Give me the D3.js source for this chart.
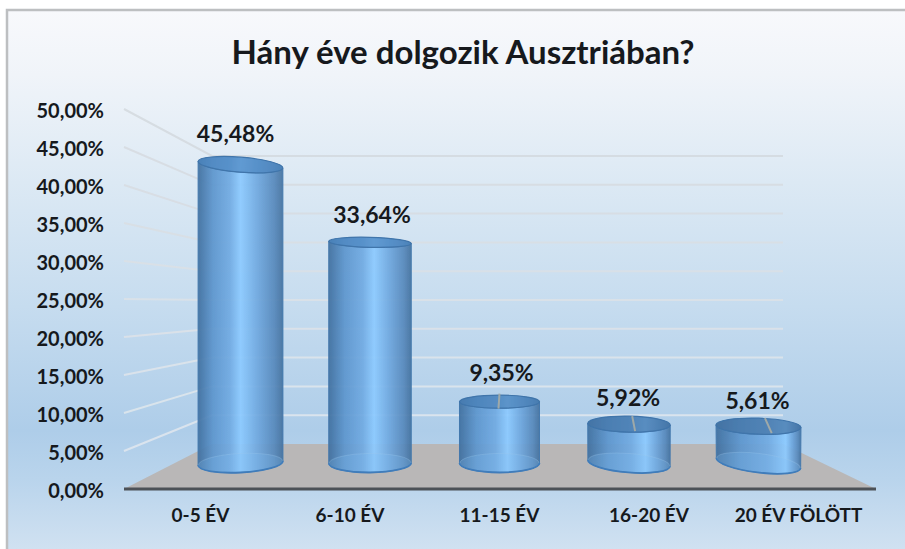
<!DOCTYPE html>
<html>
<head>
<meta charset="utf-8">
<script src="https://cdn.jsdelivr.net/npm/d3@7"></script>
<style>
  html, body { margin: 0; padding: 0; background: #fff; }
  svg { display: block; }
  text { font-family: Lato, "Noto Sans", sans-serif; font-weight: 700; fill: #16191d; }
</style>
</head>
<body>
<div id="wrapper"></div>
<script>
const chartTitle = "Hány éve dolgozik Ausztriában?"
const categories = ["0-5 ÉV", "6-10 ÉV", "11-15 ÉV", "16-20 ÉV", "20 ÉV FÖLÖTT"]
const shares = [45.48, 33.64, 9.35, 5.92, 5.61]
const yTicks = [0, 5, 10, 15, 20, 25, 30, 35, 40, 45, 50]

const pct = d => d.toFixed(2).replace(".", ",") + "%"

// 1. Dimensions
const width = 905
const height = 549
const frame = { left: 7, top: 10 }
const plane = {
  frontLeft: 124, frontRight: 876, frontBottom: 489, frontTop: 109,
  backLeft: 212, backRight: 783, backBottom: 444, backTop: 156,
}

// look of each cylinder: how the wide-angle view skews it
const cylinderLook = [
  { highlight: 50, topTilt: 4.5, baseTilt: -3, topRy: 7.5, top: "#4f88c0", lift: 23, shift: -5 },
  { highlight: 55, topTilt: 1.5, baseTilt: -0.5, topRy: 5, top: "#4f88c0", lift: 19, shift: 2 },
  { highlight: 60, topTilt: 0, baseTilt: 0, topRy: 6.5, top: "#4a80b5", lift: 21, shift: 2 },
  { highlight: 70, topTilt: 1.2, baseTilt: 4.5, topRy: 8, top: "#4576a8", lift: 18, shift: -1 },
  { highlight: 82, topTilt: 1.8, baseTilt: 7, topRy: 8, top: "#4574a5", lift: 17, shift: -1 },
]

// 2. Canvas
const wrapper = d3.select("#wrapper")
  .append("svg")
    .attr("width", width)
    .attr("height", height)

const defs = wrapper.append("defs")

defs.append("filter")
    .attr("id", "soft")
    .attr("x", "-5%").attr("y", "-5%").attr("width", "110%").attr("height", "110%")
  .append("feGaussianBlur")
    .attr("stdDeviation", 0.6)

const backdrop = defs.append("linearGradient")
    .attr("id", "backdrop")
    .attr("x1", 0).attr("x2", 0).attr("y1", 0).attr("y2", 1)
backdrop.selectAll("stop")
  .data([[0, "#f8f9fc"], [0.12, "#f0f4f9"], [0.32, "#dce9f4"], [0.55, "#c6dcef"], [0.78, "#aecde9"], [0.87, "#b9d4ec"], [1, "#d0e1f1"]])
  .enter().append("stop")
    .attr("offset", d => d[0])
    .attr("stop-color", d => d[1])

wrapper.append("rect")
    .attr("x", frame.left)
    .attr("y", frame.top)
    .attr("width", width - frame.left)
    .attr("height", height - frame.top)
    .attr("fill", "url(#backdrop)")

wrapper.append("path")
    .attr("d", `M${frame.left},${height} V${frame.top} H${width}`)
    .attr("fill", "none")
    .attr("stroke", "#bdbfc1")
    .attr("stroke-width", 2.5)

wrapper.append("text")
    .attr("x", 463)
    .attr("y", 64)
    .attr("text-anchor", "middle")
    .style("font-size", "33px")
    .text(chartTitle)

// 3. Scales
const yFront = d3.scaleLinear().domain([0, 50]).range([plane.frontBottom, plane.frontTop])
const yBack = d3.scaleLinear().domain([0, 50]).range([plane.backBottom, plane.backTop])
const xFront = d3.scalePoint().domain(categories).range([200, 798])
const xCylinder = d3.scalePoint().domain(categories).range([240.5, 758.5])
// height on the cylinder plane, which sits between front and back
const yCylinder = d3.scaleLinear().domain([0, 50]).range([463, 135])
const rxScale = d3.scaleLinear().domain([0, 260]).range([40, 42.5])

// 4. Walls and floor
const grid = wrapper.append("g")
    .attr("fill", "none")
    .attr("stroke-width", 2)
    .attr("filter", "url(#soft)")

grid.selectAll(".wall")
  .data(yTicks.filter(d => d > 0))
  .enter().append("path")
    .attr("class", "wall")
    .attr("d", d => `M${plane.frontLeft},${yFront(d)} L${plane.backLeft},${yBack(d)} H${plane.backRight}`)
    .attr("stroke", d => d3.interpolateRgb("#e4eaf0", "#d4d9de")(d / 50))
    .attr("stroke-opacity", 0.85)

wrapper.append("path")
    .attr("d", `M${plane.frontLeft},${plane.frontBottom} L${plane.backLeft},${plane.backBottom} H${plane.backRight} L${plane.frontRight},${plane.frontBottom} Z`)
    .attr("fill", "#b9b7b7")

// 5. Cylinders
const rows = categories.map((category, i) => {
  const cx = xCylinder(category)
  return {
    category,
    value: shares[i],
    look: cylinderLook[i],
    index: i,
    cx,
    rx: rxScale(Math.abs(cx - 500)),
    top: yCylinder(shares[i]),
    base: yCylinder(0),
  }
})

const tips = (cx, cy, rx, tilt) => {
  const a = tilt * Math.PI / 180
  return {
    left: [cx - rx * Math.cos(a), cy - rx * Math.sin(a)],
    right: [cx + rx * Math.cos(a), cy + rx * Math.sin(a)],
  }
}

rows.forEach(d => {
  const g = defs.append("linearGradient")
      .attr("id", `body${d.index}`)
      .attr("x1", 0).attr("x2", 1).attr("y1", 0).attr("y2", 0)
  const stops = [
    [0, "#3f6f9f"],
    [d.look.highlight * 0.35, "#5c95cd"],
    [d.look.highlight * 0.75, "#70aae2"],
    [d.look.highlight, "#8ccaff"],
    [d.look.highlight + (100 - d.look.highlight) * 0.4, "#6fa8df"],
    [d.look.highlight + (100 - d.look.highlight) * 0.8, "#5688bb"],
    [100, "#44729f"],
  ]
  g.selectAll("stop").data(stops).enter().append("stop")
      .attr("offset", s => s[0] + "%")
      .attr("stop-color", s => s[1])
})

const cylinders = wrapper.selectAll(".cylinder")
  .data(rows)
  .enter().append("g")
    .attr("class", "cylinder")

const shapes = cylinders.append("g")
    .attr("filter", "url(#soft)")

shapes.append("path")
    .attr("d", d => {
      const t = tips(d.cx, d.top, d.rx, d.look.topTilt)
      const b = tips(d.cx, d.base, d.rx, d.look.baseTilt)
      return `M${t.left} L${b.left} A${d.rx},9.5 ${d.look.baseTilt} 0 0 ${b.right} L${t.right} A${d.rx},${d.look.topRy} ${d.look.topTilt} 0 1 ${t.left} Z`
    })
    .attr("fill", d => `url(#body${d.index})`)
    .attr("fill-opacity", 0.93)
    .attr("stroke", "#4479ad")
    .attr("stroke-width", 1)

// inner floor of the see-through cylinder
shapes.append("ellipse")
    .attr("rx", d => d.rx - 0.5)
    .attr("ry", 9.5)
    .attr("transform", d => `translate(${d.cx},${d.base}) rotate(${d.look.baseTilt})`)
    .attr("fill", "#7fbdf5")
    .attr("fill-opacity", 0.22)
    .attr("stroke", "#9cc6ec")
    .attr("stroke-opacity", 0.3)

shapes.append("path")
    .attr("d", d => {
      const b = tips(d.cx, d.base, d.rx, d.look.baseTilt)
      return `M${b.left} A${d.rx},9.5 ${d.look.baseTilt} 0 0 ${b.right}`
    })
    .attr("fill", "none")
    .attr("stroke", "#3f7cba")
    .attr("stroke-width", 1.8)

// top face: body colours seen through a darker lid
const lid = shapes.append("g")
    .attr("transform", d => `translate(${d.cx},${d.top}) rotate(${d.look.topTilt})`)
lid.append("ellipse")
    .attr("rx", d => d.rx)
    .attr("ry", d => d.look.topRy)
    .attr("fill", d => `url(#body${d.index})`)
lid.append("ellipse")
    .attr("rx", d => d.rx)
    .attr("ry", d => d.look.topRy)
    .attr("fill", d => d.look.top)
    .attr("fill-opacity", 0.72)
    .attr("stroke", "#3f74aa")
    .attr("stroke-width", 1.2)

// leader lines on the short cylinders
shapes.filter(d => d.value < 10)
  .append("line")
    .attr("x1", d => d.cx + (d.cx - 500) * 0.025)
    .attr("y1", d => d.top - 8)
    .attr("x2", d => d.cx + (d.cx - 500) * 0.055 - 1)
    .attr("y2", d => d.top + 7)
    .attr("stroke", "#9fa9a8")
    .attr("stroke-width", 2)

cylinders.append("text")
    .attr("x", d => d.cx + d.look.shift)
    .attr("y", d => d.top - d.look.lift)
    .attr("text-anchor", "middle")
    .style("font-size", "23px")
    .text(d => pct(d.value))

// 6. Axes
const yAxis = wrapper.append("g")
    .attr("transform", `translate(108, 2)`)
    .call(d3.axisLeft(yFront).tickValues(yTicks).tickFormat(pct).tickSize(0).tickPadding(4))
yAxis.select(".domain").remove()
yAxis.selectAll("text")
    .style("font-family", "Lato, 'Noto Sans', sans-serif")
    .style("font-size", "20px")

const xAxis = wrapper.append("g")
    .attr("transform", `translate(0, ${plane.frontBottom})`)
    .call(d3.axisBottom(xFront).tickSize(0).tickPadding(20))
xAxis.select(".domain").remove()
xAxis.selectAll("text")
    .style("font-family", "Lato, 'Noto Sans', sans-serif")
    .style("font-size", "19px")

// no blur filter here: a flat line has an empty box and would vanish
wrapper.append("line")
    .attr("x1", plane.frontLeft)
    .attr("x2", plane.frontRight)
    .attr("y1", plane.frontBottom)
    .attr("y2", plane.frontBottom)
    .attr("stroke", "#4c5157")
    .attr("stroke-width", 3)
</script>
</body>
</html>
